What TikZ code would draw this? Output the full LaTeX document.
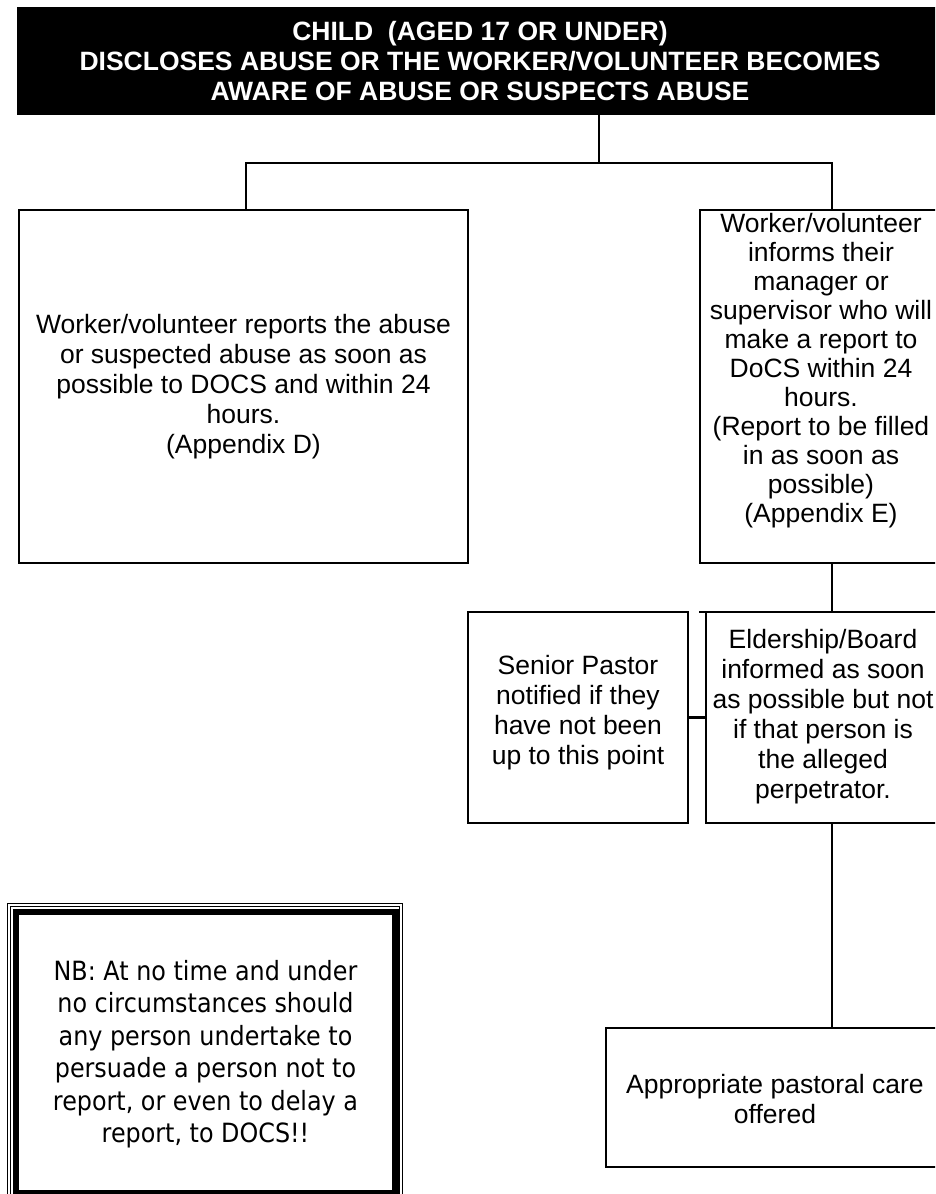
\documentclass[tikz,border=0pt]{standalone}
\usepackage{fontspec}
\setmainfont{Liberation Sans}
\newfontfamily\nbfont[FakeStretch=0.9]{DejaVu Sans}
\begin{document}
\begin{tikzpicture}[x=1pt,y=-1pt,
  box/.style={draw, line width=2.6pt, inner sep=0pt, outer sep=0pt, anchor=north west},
  txt/.style={inner sep=0pt, align=center, font=\fontsize{26.5}{30}\selectfont},
  link/.style={line width=2.6pt},
  nbtext/.style={inner sep=0pt, align=center, font=\nbfont\fontsize{26.5}{32.5}\selectfont}]
\useasboundingbox (0,0) rectangle (935,1194);
\clip (0,0) rectangle (935,1194);
\fill[white] (0,0) rectangle (935,1194);

% header
\node[fill=black, text=white, inner sep=0pt, outer sep=0pt, align=center,
      minimum width=926pt, minimum height=108pt,
      font=\bfseries\fontsize{26.5}{30}\selectfont] (top) at (480,61)
  {CHILD\ \ (AGED 17 OR UNDER)\\DISCLOSES ABUSE OR THE WORKER/VOLUNTEER BECOMES\\AWARE OF ABUSE OR SUSPECTS ABUSE};

% boxes (right-hand ones run past the page edge, as in the reference)
\node[box, minimum width=449pt, minimum height=353pt] (left) at (19,210) {};
\node[box, minimum width=300pt, minimum height=353pt] (rtop) at (700,210) {};
\node[box, minimum width=220pt, minimum height=211pt] (sp) at (468,612) {};
\node[box, minimum width=300pt, minimum height=211pt] (eld) at (706,612) {};
\node[box, minimum width=360pt, minimum height=139pt] (past) at (606,1028) {};

% texts
\node[txt] (leftT) at (243.5,387)
  {Worker/volunteer reports the abuse\\or suspected abuse as soon as\\possible to DOCS and within 24\\hours.\\(Appendix D)};
\node[txt, font=\fontsize{26.5}{29}\selectfont] (rtopT) at (821,371)
  {Worker/volunteer\\informs their\\manager or\\supervisor who will\\make a report to\\DoCS within 24\\hours.\\(Report to be filled\\in as soon as\\possible)\\(Appendix E)};
\node[txt] (spT) at (578,713)
  {Senior Pastor\\notified if they\\have not been\\up to this point};
\node[txt] (eldT) at (823,717)
  {Eldership/Board\\informed as soon\\as possible but not\\if that person is\\the alleged\\perpetrator.};
\node[txt] (pastT) at (775,1099)
  {Appropriate pastoral care\\offered};

% connectors
\coordinate (j0) at (599,163);
\coordinate (jl) at (246,163);
\coordinate (jr) at (832,163);
\coordinate (ej) at (699,612);
\draw[link] (top.south -| j0) -- (j0);
\draw[link] (jl |- left.north) -- (jl) -- (jr) -- (jr |- rtop.north);
\draw[link] (rtop.south -| jr) -- (jr |- eld.north);
\draw[link] (ej) -- (eld.north west);
\draw[link] (sp.east) -- (eld.west);
\draw[link] (eld.south -| jr) -- (jr |- past.north);

% NB box with framed border
\draw[line width=1.2pt] (7.5,903.5) rectangle (402.5,1210);
\draw[line width=1.5pt] (10.5,906.5) rectangle (399.5,1210);
\draw[line width=6.5pt] (15.75,911.75) rectangle (395.25,1193.25);
\node[nbtext] (nb) at (205.5,1054)
  {NB: At no time and under\\no circumstances should\\any person undertake to\\persuade a person not to\\report, or even to delay a\\report, to DOCS!!};
\end{tikzpicture}
\end{document}
